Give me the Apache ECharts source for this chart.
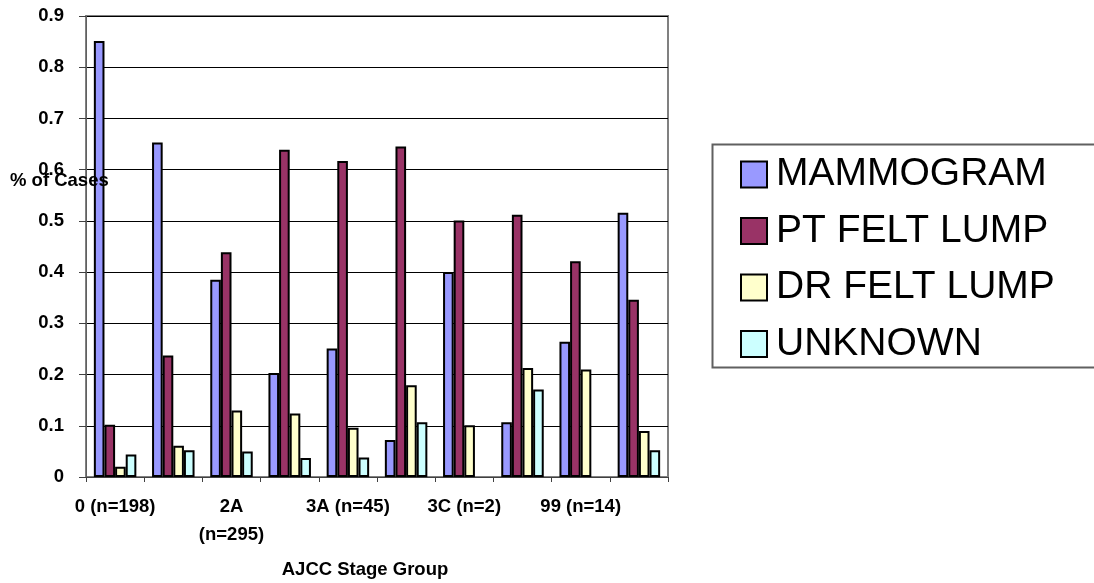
<!DOCTYPE html>
<html>
<head>
<meta charset="utf-8">
<script src="https://cdn.jsdelivr.net/npm/echarts@6/dist/echarts.min.js"></script>
<style>
html,body{margin:0;padding:0;background:#fff;}
#chart{width:1094px;height:583px;}
</style>
</head>
<body>
<div id="chart"></div>
<script>
// Categories (only every other label is shown in the original)
var categories = ['0 (n=198)', '1', '2A (n=295)', '2B', '3A (n=45)', '3B', '3C (n=2)', '4', '99 (n=14)', 'All'];
var seriesNames = ['MAMMOGRAM', 'PT FELT LUMP', 'DR FELT LUMP', 'UNKNOWN'];
var mammogram  = [0.851, 0.653, 0.385, 0.203, 0.251, 0.072, 0.400, 0.107, 0.264, 0.516];
var ptFeltLump = [0.102, 0.237, 0.439, 0.639, 0.617, 0.645, 0.501, 0.512, 0.421, 0.346];
var drFeltLump = [0.020, 0.061, 0.130, 0.124, 0.096, 0.179, 0.101, 0.213, 0.210, 0.090];
var unknown    = [0.044, 0.052, 0.050, 0.037, 0.038, 0.107, 0,     0.171, 0,     0.052];
var yTicks = [0, 0.1, 0.2, 0.3, 0.4, 0.5, 0.6, 0.7, 0.8, 0.9];
var xAxisTitle = 'AJCC Stage Group';
var yAxisTitle = '% of Cases';

var colors = ['#9999FF', '#993366', '#FFFFCC', '#CCFFFF'];
var values = [mammogram, ptFeltLump, drFeltLump, unknown];
var FONT = '"Liberation Sans", Arial, sans-serif';
var AXIS_FS = 18.5;

var chart = echarts.init(document.getElementById('chart'), null, {renderer: 'canvas'});
var series = seriesNames.map(function (n, i) {
  return {
    name: n,
    type: 'bar',
    // zero values are not drawn as bars (no visible mark in the original)
    data: values[i].map(function (v) { return v === 0 ? '-' : v; }),
    barGap: '0%',
    barCategoryGap: '27%',
    itemStyle: {color: colors[i], borderColor: '#000', borderWidth: 2},
    emphasis: {disabled: true},
    animation: false
  };
});

chart.setOption({
  animation: false,
  grid: {left: 86, right: 426, top: 16, bottom: 106, show: true, borderColor: '#808080', borderWidth: 2, backgroundColor: 'transparent'},
  xAxis: {
    type: 'category',
    data: categories,
    axisLine: {lineStyle: {color: '#404040', width: 1}},
    axisTick: {show: true, interval: 0, length: 5, lineStyle: {color: '#404040'}},
    axisLabel: {
      interval: 1,
      margin: 16,
      color: '#000',
      fontFamily: FONT,
      fontWeight: 'bold',
      fontSize: AXIS_FS,
      lineHeight: 28,
      formatter: function (v) { return v === '2A (n=295)' ? '2A\n(n=295)' : v; }
    }
  },
  yAxis: {
    type: 'value',
    min: yTicks[0],
    max: yTicks[yTicks.length - 1],
    interval: 0.1,
    axisLine: {show: true, lineStyle: {color: '#606060', width: 1}},
    axisTick: {show: true, length: 7, lineStyle: {color: '#404040'}},
    axisLabel: {margin: 22, color: '#000', fontFamily: FONT, fontWeight: 'bold', fontSize: AXIS_FS,
      formatter: function (v) { return String(Math.round(v * 10) / 10); }},
    splitLine: {show: true, lineStyle: {color: '#000', width: 1}}
  },
  legend: {
    orient: 'vertical',
    left: 735,
    top: 150,
    itemWidth: 26,
    itemHeight: 26,
    itemGap: 17.5,
    icon: 'rect',
    selectedMode: false,
    textStyle: {fontFamily: FONT, fontSize: 39, color: '#000', lineHeight: 38, padding: [0, 0, 0, 4]},
    data: seriesNames
  },
  graphic: [
    {type: 'rect', left: 710, top: 142, shape: {width: 400, height: 223},
     style: {fill: 'none', stroke: '#606060', lineWidth: 2}, silent: true, z: -1},
    {type: 'text', left: 10, top: 171,
     style: {text: yAxisTitle, font: 'bold ' + AXIS_FS + 'px ' + FONT, fill: '#000'}, z: 100},
    {type: 'text', x: 365, y: 570,
     style: {text: xAxisTitle, font: 'bold ' + AXIS_FS + 'px ' + FONT, fill: '#000', textAlign: 'center', textVerticalAlign: 'middle'}}
  ],
  series: series
});
</script>
</body>
</html>
